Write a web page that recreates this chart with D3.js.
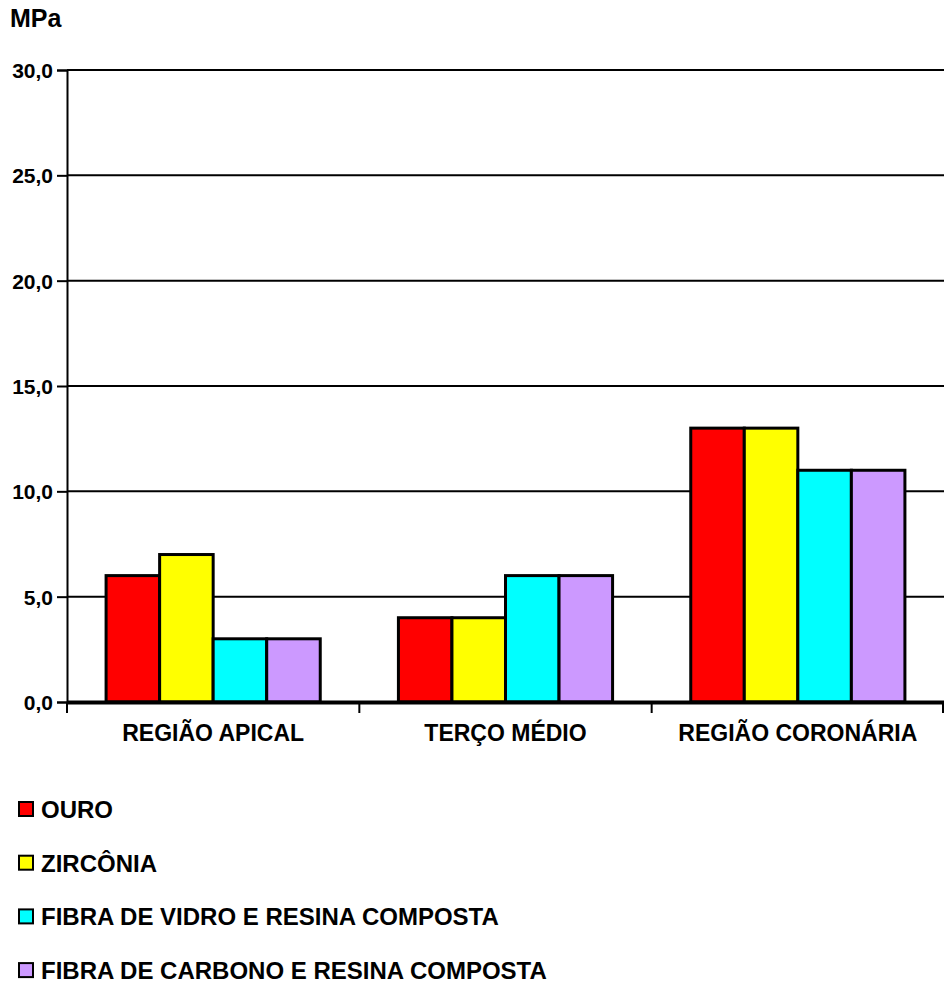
<!DOCTYPE html>
<html>
<head>
<meta charset="utf-8">
<script src="https://cdn.jsdelivr.net/npm/d3@7"></script>
<style>
  body { margin: 0; background: #fff; }
  text { font-family: "Liberation Sans", Arial, sans-serif; font-weight: bold; fill: #000; }
</style>
</head>
<body>
<svg id="chart"></svg>
<script>
// data
const categories = ['REGIÃO APICAL', 'TERÇO MÉDIO', 'REGIÃO CORONÁRIA'];
const seriesNames = ['OURO', 'ZIRCÔNIA', 'FIBRA DE VIDRO E RESINA COMPOSTA', 'FIBRA DE CARBONO E RESINA COMPOSTA'];
const seriesColors = ['#FF0000', '#FFFF00', '#00FFFF', '#CC99FF'];
const ouro = [6, 4, 13];
const zirconia = [7, 4, 13];
const fibraVidro = [3, 6, 11];
const fibraCarbono = [3, 6, 11];
const yTicks = [0, 5, 10, 15, 20, 25, 30];

const values = [ouro, zirconia, fibraVidro, fibraCarbono];

const W = 944, H = 985;
const margin = { left: 67, top: 70, right: 0, bottom: 283 };
const svg = d3.select('#chart').attr('width', W).attr('height', H);

const plotW = W - margin.left - margin.right;
const plotH = H - margin.top - margin.bottom;

const x0 = d3.scaleBand().domain(categories).range([margin.left, margin.left + plotW]);
const x1 = d3.scaleBand().domain(seriesNames).range([0, x0.bandwidth()]).paddingOuter(0.73).paddingInner(0);
const y = d3.scaleLinear().domain([0, 30]).range([margin.top + plotH, margin.top]);

// gridlines
svg.append('g')
  .selectAll('line')
  .data(yTicks.filter(t => t > 0))
  .join('line')
  .attr('x1', margin.left).attr('x2', margin.left + plotW)
  .attr('y1', d => y(d)).attr('y2', d => y(d))
  .attr('stroke', '#000').attr('stroke-width', 2);

// bars
const groups = svg.append('g')
  .selectAll('g')
  .data(categories)
  .join('g')
  .attr('transform', c => `translate(${x0(c)},0)`);

groups.selectAll('rect')
  .data((c, ci) => seriesNames.map((s, si) => ({ s, si, v: values[si][ci] })))
  .join('rect')
  .attr('x', d => x1(d.s))
  .attr('width', x1.bandwidth())
  .attr('y', d => y(d.v))
  .attr('height', d => y(0) - y(d.v))
  .attr('fill', d => seriesColors[d.si])
  .attr('stroke', '#000').attr('stroke-width', 3);

// y axis
const yAxis = svg.append('g')
  .attr('transform', `translate(${margin.left},0)`)
  .call(d3.axisLeft(y).tickValues(yTicks).tickSize(10).tickPadding(4)
    .tickFormat(d => d3.format('.1f')(d).replace('.', ',')));
yAxis.select('.domain').attr('stroke', '#000').attr('stroke-width', 2);
yAxis.selectAll('.tick line').attr('stroke-width', 2);
yAxis.selectAll('text').style('font-size', '21px').attr('dy', '0.36em');

// x axis
const xAxis = svg.append('g')
  .attr('transform', `translate(0,${y(0)})`)
  .call(d3.axisBottom(x0).tickSize(0));
xAxis.select('.domain').attr('stroke', '#000').attr('stroke-width', 4);
xAxis.selectAll('text').style('font-size', '23px').attr('y', 39).attr('dy', 0);
// category separators
svg.append('g')
  .selectAll('line')
  .data(categories.concat(['end']))
  .join('line')
  .attr('x1', (c, i) => i < categories.length ? x0(c) : margin.left + plotW - 1)
  .attr('x2', (c, i) => i < categories.length ? x0(c) : margin.left + plotW - 1)
  .attr('y1', y(0)).attr('y2', y(0) + 11)
  .attr('stroke', '#000').attr('stroke-width', 2);

// unit label
svg.append('text').attr('x', 10).attr('y', 27).style('font-size', '25px').text('MPa');

// legend
const legend = svg.append('g')
  .selectAll('g')
  .data(seriesNames)
  .join('g')
  .attr('transform', (d, i) => `translate(19,${802 + i * 53.7})`);
legend.append('rect')
  .attr('width', 14).attr('height', 14)
  .attr('fill', (d, i) => seriesColors[i])
  .attr('stroke', '#000').attr('stroke-width', 2);
legend.append('text')
  .attr('x', 22).attr('y', 16)
  .style('font-size', '24px')
  .text(d => d);
</script>
</body>
</html>
